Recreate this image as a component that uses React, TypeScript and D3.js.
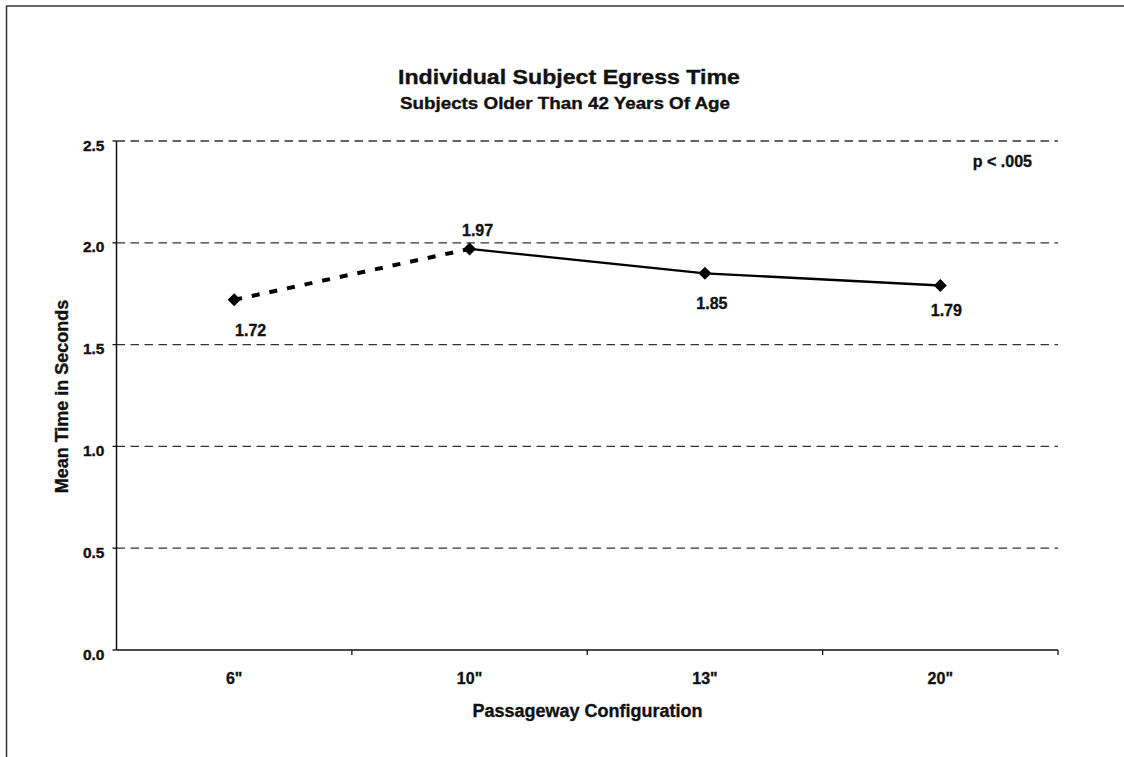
import React from "react";
import * as d3 from "d3";

const categories = ['6"', '10"', '13"', '20"'];
const values = [1.72, 1.97, 1.85, 1.79];
const valueLabels = ["1.72", "1.97", "1.85", "1.79"];
const labelOffsets = [
  [16.5, 36],
  [8, -13],
  [7, 35.5],
  [6, 30.5],
];
const yTicks = [0, 0.5, 1.0, 1.5, 2.0, 2.5];

const W = 1124;
const H = 757;
const left = 116.5;
const right = 1058;
const top = 141;
const bottom = 650;
const FONT = "'Liberation Sans', Arial, Helvetica, sans-serif";
const INK = "#111";
const heavy = { stroke: INK, strokeWidth: 0.35 };

export default function App() {
  const x = d3.scaleBand<string>().domain(categories).range([left, right]).padding(0);
  const y = d3.scaleLinear().domain([0, 2.5]).range([bottom, top]);
  const cx = (c: string) => (x(c) as number) + x.bandwidth() / 2;
  const pts = categories.map((c, i) => [cx(c), y(values[i])] as [number, number]);
  const line = d3.line<[number, number]>();
  const dashedSeg = line(pts.slice(0, 2)) as string;
  const solidSeg = line(pts.slice(1)) as string;
  const diamond = d3.symbol().type(d3.symbolDiamond2).size(108)() as string;
  const catEdges = categories.map((c) => (x(c) as number) + x.bandwidth());

  return (
    <svg
      width={W}
      height={H}
      style={{ position: "absolute", left: 0, top: 0, background: "#fff" }}
      fontFamily={FONT}
    >
      <rect x={0} y={0} width={W} height={H} fill="#fff" />
      {/* outer frame */}
      <line x1={6} y1={6} x2={W} y2={6} stroke="#333" strokeWidth={1.5} />
      <line x1={6.5} y1={6} x2={6.5} y2={H} stroke="#333" strokeWidth={1.5} />

      {/* titles */}
      <text
        x={398}
        y={84}
        fontSize={20}
        fontWeight="bold"
        fill={INK}
        {...heavy}
        textLength={342}
        lengthAdjust="spacingAndGlyphs"
      >
        Individual Subject Egress Time
      </text>
      <text
        x={400}
        y={109}
        fontSize={16}
        fontWeight="bold"
        fill={INK}
        {...heavy}
        textLength={330}
        lengthAdjust="spacingAndGlyphs"
      >
        Subjects Older Than 42 Years Of Age
      </text>

      {/* gridlines */}
      {yTicks.filter((t) => t > 0).map((t) => (
        <line
          key={t}
          x1={left}
          x2={right}
          y1={y(t)}
          y2={y(t)}
          stroke="#333"
          strokeWidth={1.3}
          strokeDasharray="8.5,5.5"
        />
      ))}

      {/* axes */}
      <line x1={left} x2={left} y1={top} y2={bottom} stroke={INK} strokeWidth={1.5} />
      <line x1={left} x2={right} y1={bottom} y2={bottom} stroke={INK} strokeWidth={1.5} />
      {yTicks.map((t) => (
        <g key={t}>
          <line x1={left - 4} x2={left} y1={y(t)} y2={y(t)} stroke={INK} strokeWidth={1.3} />
          <text
            x={104.5}
            y={y(t) + 9.5}
            textAnchor="end"
            fontSize={15.5}
            fontWeight="bold"
            fill={INK}
            {...heavy}
          >
            {t.toFixed(1)}
          </text>
        </g>
      ))}
      {catEdges.map((e, i) => (
        <line key={i} x1={e} x2={e} y1={bottom} y2={bottom + 5} stroke={INK} strokeWidth={1.3} />
      ))}
      {categories.map((c) => (
        <text
          key={c}
          x={cx(c)}
          y={684}
          textAnchor="middle"
          fontSize={16}
          fontWeight="bold"
          fill={INK}
          {...heavy}
        >
          {c}
        </text>
      ))}

      {/* axis titles */}
      <text
        x={587.5}
        y={716.5}
        textAnchor="middle"
        fontSize={18}
        fontWeight="bold"
        fill={INK}
        {...heavy}
      >
        Passageway Configuration
      </text>
      <text
        transform={`translate(68.3, ${396.5}) rotate(-90)`}
        textAnchor="middle"
        fontSize={18}
        fontWeight="bold"
        fill={INK}
        {...heavy}
      >
        Mean Time in Seconds
      </text>

      {/* p value */}
      <text
        x={1032}
        y={166.5}
        textAnchor="end"
        fontSize={16}
        fontWeight="bold"
        fill={INK}
        {...heavy}
      >
        p &lt; .005
      </text>

      {/* series */}
      <path d={dashedSeg} fill="none" stroke="#000" strokeWidth={4} strokeDasharray="8,10" />
      <path d={solidSeg} fill="none" stroke="#000" strokeWidth={2.4} />
      {pts.map((p, i) => (
        <path key={i} d={diamond} transform={`translate(${p[0]},${p[1]})`} fill="#000" />
      ))}
      {pts.map((p, i) => (
        <text
          key={i}
          x={p[0] + labelOffsets[i][0]}
          y={p[1] + labelOffsets[i][1]}
          textAnchor="middle"
          fontSize={16}
          fontWeight="bold"
          fill={INK}
          {...heavy}
        >
          {valueLabels[i]}
        </text>
      ))}
    </svg>
  );
}
